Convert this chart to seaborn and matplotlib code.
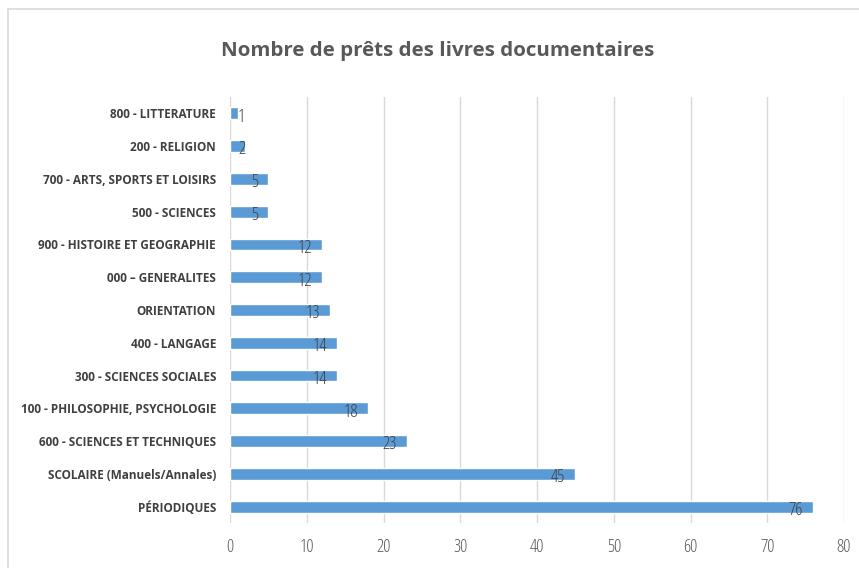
import matplotlib
matplotlib.use("Agg")
import matplotlib.pyplot as plt
import seaborn as sns
import pandas as pd
from matplotlib.patches import Rectangle

categories = [
    "800 - LITTERATURE",
    "200 - RELIGION",
    "700 - ARTS, SPORTS ET LOISIRS",
    "500 - SCIENCES",
    "900 - HISTOIRE ET GEOGRAPHIE",
    "000 \u2013 GENERALITES",
    "ORIENTATION",
    "400 - LANGAGE",
    "300 - SCIENCES SOCIALES",
    "100 - PHILOSOPHIE, PSYCHOLOGIE",
    "600 - SCIENCES ET TECHNIQUES",
    "SCOLAIRE (Manuels/Annales)",
    "P\u00c9RIODIQUES",
]
values = [1, 2, 5, 5, 12, 12, 13, 14, 14, 18, 23, 45, 76]
xticks = [0, 10, 20, 30, 40, 50, 60, 70, 80]
title = "Nombre de pr\u00eats des livres documentaires"

sns.set_theme(style="white")
plt.rcParams["font.family"] = ["Open Sans", "DejaVu Sans"]
plt.rcParams["font.stretch"] = "condensed"

df = pd.DataFrame({"cat": categories, "val": values})

fig = plt.figure(figsize=(8.59, 5.68), dpi=100)
fig.patch.set_facecolor("white")
fig.patches.append(Rectangle((8 / 859, -0.1), 1.2, (568 - 9.5) / 568 + 0.1,
                             transform=fig.transFigure, fill=False,
                             edgecolor="#D9D9D9", linewidth=1.2))

ax = fig.add_axes([230 / 859, (568 - 523) / 568, 614 / 859, 426 / 568])
sns.barplot(data=df, x="val", y="cat", color="#5B9BD5", width=0.36,
            saturation=1, ax=ax, orient="h")
ax.set_xlim(0, 80)
ax.set_ylim(12.5, -0.5)
ax.set_xticks(xticks)
ax.set_xlabel("")
ax.set_ylabel("")
for s in ax.spines.values():
    s.set_visible(False)
ax.grid(axis="x", color="#D9D9D9", linewidth=1)
ax.set_axisbelow(True)
ax.tick_params(axis="x", length=0, pad=11, labelsize=13, labelcolor="#595959")
ax.tick_params(axis="y", length=0, pad=10, labelsize=10.5, labelcolor="#404040")
for lab in ax.get_yticklabels():
    lab.set_fontweight("bold")
    lab.set_fontstretch("condensed")
for lab in ax.get_xticklabels():
    lab.set_fontstretch("condensed")
    lab.set_fontweight(300)

for i, v in enumerate(values):
    x_right = max(v - 1.3, 2.0 if v < 10 else 3.0)
    ax.text(x_right, i + 0.1, str(v), ha="right", va="center",
            fontsize=13, color="#404040", fontstretch="condensed",
            fontweight=300)

ttl = fig.text(438 / 859, 1 - 51 / 568, title, ha="center", va="center",
               fontsize=20, fontweight="bold", color="#595959",
               fontstretch="condensed")

# fit label font sizes to the widths seen in the reference
fig.canvas.draw()
r = fig.canvas.get_renderer()
labs = ax.get_yticklabels()
wmax = max(l.get_window_extent(r).width for l in labs)
ls = min(12.0, 10.5 * 198 / wmax)
for l in labs:
    l.set_fontsize(ls)
tw = ttl.get_window_extent(r).width
ttl.set_fontsize(min(24.0, 20 * 433 / tw))

fig.savefig("out.png", dpi=100)
